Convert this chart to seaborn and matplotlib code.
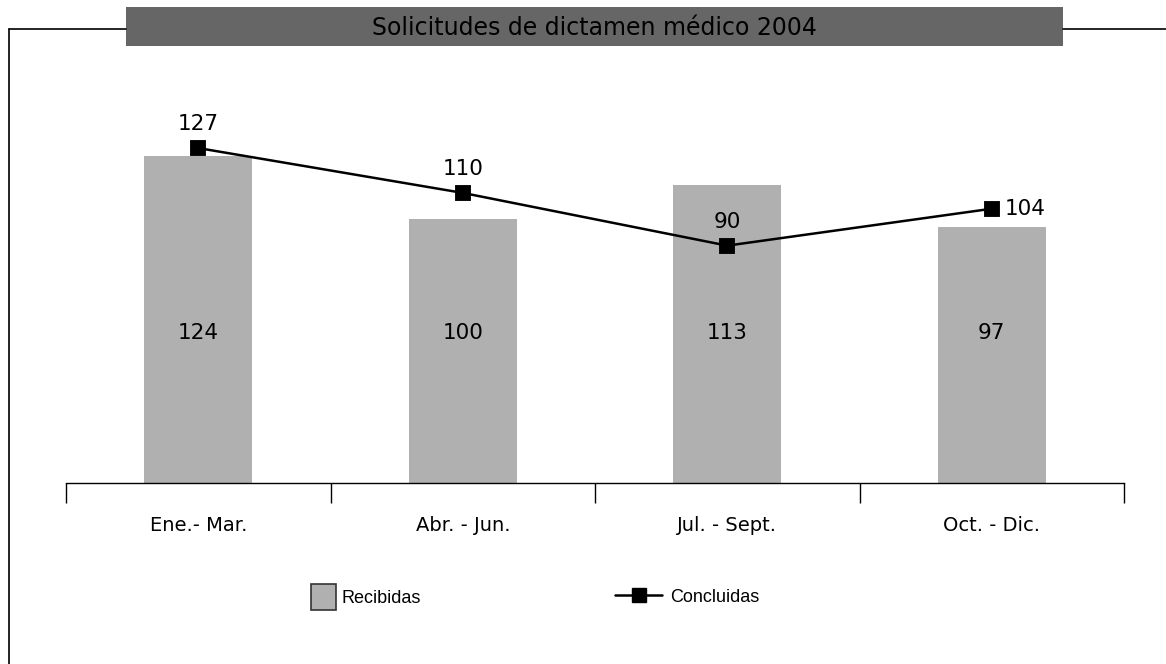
import matplotlib
matplotlib.use("Agg")
import matplotlib.pyplot as plt
import seaborn as sns
import pandas as pd
from matplotlib.patches import Patch, Rectangle
from matplotlib.lines import Line2D

categories = ["Ene.- Mar.", "Abr. - Jun.", "Jul. - Sept.", "Oct. - Dic."]
recibidas = [124, 100, 113, 97]
concluidas = [127, 110, 90, 104]
title = "Solicitudes de dictamen médico 2004"
series_names = ["Recibidas", "Concluidas"]

sns.set_theme(style="white")
plt.rcParams["font.family"] = ["DejaVu Sans"]

df = pd.DataFrame({"cat": categories, "rec": recibidas, "con": concluidas})

W, H = 1166, 664
fig = plt.figure(figsize=(W / 100, H / 100), dpi=100)
ax = fig.add_axes([66 / W, (H - 483) / H, 1058 / W, 395.6 / H])

bar_color = "#b0b0b0"
sns.barplot(data=df, x="cat", y="rec", color=bar_color, width=0.41,
            saturation=1, ax=ax, edgecolor="none")
sns.pointplot(data=df, x="cat", y="con", color="black", markers="s",
              markersize=10.5, linewidth=1.8, ax=ax)

ax.set_xlim(-0.5, 3.5)
ax.set_ylim(0, 150)
ax.set_xlabel("")
ax.set_ylabel("")
ax.set_yticks([])
for s in ["top", "right", "left"]:
    ax.spines[s].set_visible(False)
ax.spines["bottom"].set_color("black")
ax.spines["bottom"].set_linewidth(1.0)
ax.set_xticks([-0.5, 0.5, 1.5, 2.5, 3.5], minor=False)
ax.set_xticklabels([])
ax.tick_params(axis="x", direction="out", length=14.4, width=1.0, color="black", bottom=True)
for i, c in enumerate(categories):
    ax.text(i, -42 / 2.637, c, ha="center", va="center", fontsize=14, color="black")

# bar value labels
for i, v in enumerate(recibidas):
    ax.text(i, 57, str(v), ha="center", va="center", fontsize=15.5, color="black")
# line value labels
for i, v in enumerate(concluidas):
    if i == len(concluidas) - 1:
        ax.text(i + 0.05, v, str(v), ha="left", va="center", fontsize=15.5, color="black")
    else:
        ax.text(i, v + 24 / 2.637, str(v), ha="center", va="center", fontsize=15.5, color="black")

# frame lines
fig.add_artist(Line2D([9 / W, 126 / W], [1 - 29 / H, 1 - 29 / H], color="black", lw=1.2))
fig.add_artist(Line2D([1063 / W, 1], [1 - 29 / H, 1 - 29 / H], color="black", lw=1.2))
fig.add_artist(Line2D([9 / W, 9 / W], [0, 1 - 29 / H], color="black", lw=1.2))
# title box
fig.add_artist(Rectangle((126 / W, 1 - 46 / H), (1063 - 126) / W, 39 / H,
                         facecolor="#666666", edgecolor="none"))
fig.text(594 / W, 1 - 28 / H, title, ha="center", va="center", fontsize=17, color="black")

# legend
leg_prop = {"family": "Liberation Sans", "size": 13}
h1 = Patch(facecolor=bar_color, edgecolor="#333333", linewidth=1.2)
leg1 = fig.legend([h1], [series_names[0]], loc="center left",
                  bbox_to_anchor=(295 / W, 1 - 597 / H), frameon=False,
                  handlelength=1.35, handleheight=1.9, handletextpad=0.35,
                  prop=leg_prop, labelcolor="black")
h2 = Line2D([], [], color="black", marker="s", markersize=10.5, lw=1.8)
leg2 = fig.legend([h2], [series_names[1]], loc="center left",
                  bbox_to_anchor=(599 / W, 1 - 597 / H), frameon=False,
                  handlelength=2.6, handletextpad=0.45, prop=leg_prop, labelcolor="black")

fig.savefig("out.png", dpi=100)
